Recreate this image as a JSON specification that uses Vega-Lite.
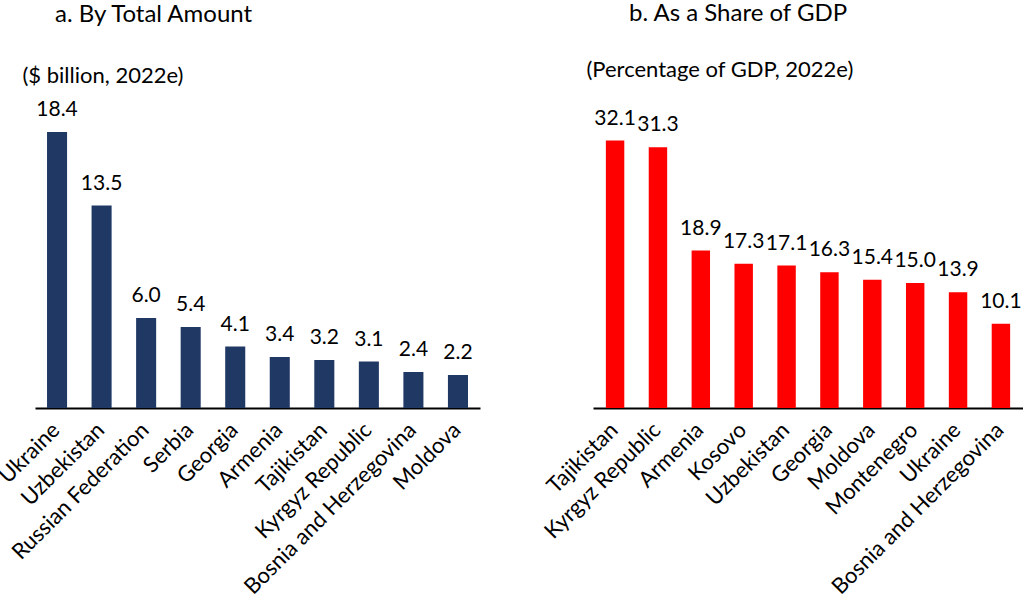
{
  "$schema": "https://vega.github.io/schema/vega-lite/v6.json",
  "padding": {"left": -6, "top": 2, "right": 0, "bottom": 0},
  "background": "white",
  "config": {
    "font": "Lato",
    "view": {"stroke": null},
    "concat": {"spacing": 60},
    "axisX": {"labelAngle": -45, "labelFontSize": 22, "labelColor": "black", "labelLimit": 400, "ticks": false, "domainColor": "black", "domainWidth": 2, "labelPadding": 11, "labelOffset": -8, "title": null},
    "axisY": {"domain": false, "ticks": false, "labels": false, "grid": false, "titleAngle": 0, "titleAlign": "left", "titleBaseline": "alphabetic", "titleFontSize": 22, "titleFontWeight": "normal", "titleColor": "black"},
    "title": {"fontSize": 24, "fontWeight": "normal", "anchor": "start", "color": "black", "frame": "group"}
  },
  "hconcat": [
    {
      "width": 445,
      "height": 300,
      "title": {"text": "a. By Total Amount", "dx": 20, "offset": 37},
      "data": {"values": [
        {"country": "Ukraine", "value": 18.4},
        {"country": "Uzbekistan", "value": 13.5},
        {"country": "Russian Federation", "value": 6.0},
        {"country": "Serbia", "value": 5.4},
        {"country": "Georgia", "value": 4.1},
        {"country": "Armenia", "value": 3.4},
        {"country": "Tajikistan", "value": 3.2},
        {"country": "Kyrgyz Republic", "value": 3.1},
        {"country": "Bosnia and Herzegovina", "value": 2.4},
        {"country": "Moldova", "value": 2.2}
      ]},
      "encoding": {
        "x": {"field": "country", "type": "nominal", "sort": null, "scale": {"paddingInner": 0.55, "paddingOuter": 0.27}},
        "y": {"field": "value", "type": "quantitative", "scale": {"domain": [0, 20]}, "axis": {"title": "($ billion, 2022e)", "titleX": -13, "titleY": -26}}
      },
      "layer": [
        {"mark": {"type": "bar", "color": "#203864"}},
        {"mark": {"type": "text", "dy": -22, "fontSize": 21, "color": "black"}, "encoding": {"text": {"field": "value", "type": "quantitative", "format": ".1f"}}}
      ]
    },
    {
      "width": 430,
      "height": 300,
      "title": {"text": "b. As a Share of GDP", "dx": 36, "offset": 32},
      "data": {"values": [
        {"country": "Tajikistan", "value": 32.1},
        {"country": "Kyrgyz Republic", "value": 31.3},
        {"country": "Armenia", "value": 18.9},
        {"country": "Kosovo", "value": 17.3},
        {"country": "Uzbekistan", "value": 17.1},
        {"country": "Georgia", "value": 16.3},
        {"country": "Moldova", "value": 15.4},
        {"country": "Montenegro", "value": 15.0},
        {"country": "Ukraine", "value": 13.9},
        {"country": "Bosnia and Herzegovina", "value": 10.1}
      ]},
      "encoding": {
        "x": {"field": "country", "type": "nominal", "sort": null, "scale": {"paddingInner": 0.57, "paddingOuter": 0.3}},
        "y": {"field": "value", "type": "quantitative", "scale": {"domain": [0, 36]}, "axis": {"title": "(Percentage of GDP, 2022e)", "titleX": -7, "titleY": -32}}
      },
      "layer": [
        {"mark": {"type": "bar", "color": "#FF0000"}},
        {"mark": {"type": "text", "dy": -22, "fontSize": 21, "color": "black"}, "encoding": {"text": {"field": "value", "type": "quantitative", "format": ".1f"}}}
      ]
    }
  ]
}
